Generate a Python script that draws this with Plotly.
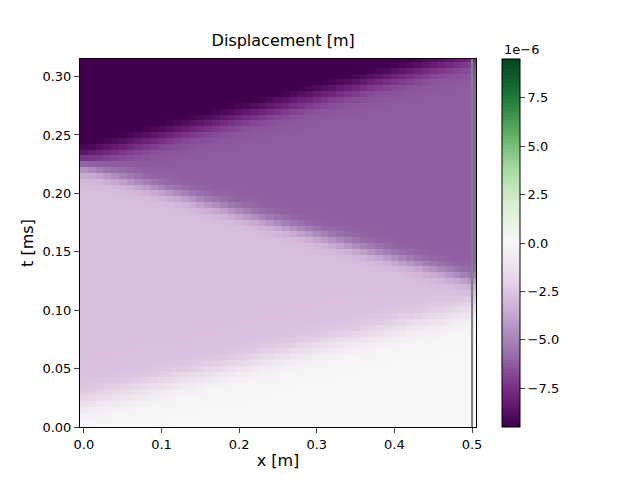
import numpy as np
import plotly.graph_objects as go
import plotly.express as px

x_cells = np.round(np.arange(0, 0.501, 0.01), 3)          # m
t_cells = np.round(np.arange(0, 0.316, 0.005), 4)         # ms
levels = [0.0, -2.7, -6.2, -10.0]                          # 1e-6 m, plateau values
front1 = (0.02, 0.10)    # incident front t at x=0, x=0.5
front2 = (0.222, 0.125)  # reflected front t at x=0, x=0.5
front3 = (0.232, 0.318)  # second front t at x=0, x=0.5
blur = [0.012, 0.008, 0.012]

X, T = np.meshgrid(x_cells, t_cells)
def line(f):
    return f[0] + (f[1] - f[0]) * X / 0.5
def s(d, w):
    return 0.5 * (1 + np.tanh(d / w))
Z = (levels[0]
     + (levels[1] - levels[0]) * s(T - line(front1), blur[0])
     + (levels[2] - levels[1]) * s(T - line(front2), blur[1])
     + (levels[3] - levels[2]) * s(T - line(front3), blur[2]))

fig = go.Figure(go.Heatmap(
    x=x_cells, y=t_cells, z=Z, colorscale=px.colors.diverging.PRGn,
    zmin=-9.5, zmax=9.5,
    colorbar=dict(x=0.754, xanchor="left", len=1.0, lenmode="fraction", y=0, yanchor="bottom",
                  thickness=18, xpad=0, ypad=0,
                  tickvals=[-7.5, -5, -2.5, 0, 2.5, 5, 7.5],
                  ticktext=["−7.5", "−5.0", "−2.5", "0.0", "2.5", "5.0", "7.5"],
                  ticks="outside", outlinewidth=1, outlinecolor="black",
                  tickfont=dict(size=13))))
fig.add_shape(type="line", x0=0.5, x1=0.5, y0=0, y1=0.315, line=dict(color="gray", width=2))
fig.update_layout(
    width=640, height=480, plot_bgcolor="white", paper_bgcolor="white",
    font=dict(family="DejaVu Sans", size=13, color="black"),
    margin=dict(l=72, r=8, t=51, b=61, autoexpand=False),
    title=dict(text="Displacement [m]", x=0.43, xanchor="center", y=0.92, yanchor="bottom",
               font=dict(size=16)),
    xaxis=dict(title=dict(text="x [m]", standoff=4), range=[-0.005, 0.505], domain=[0, 0.707],
               automargin=False,
               tickvals=[0, 0.1, 0.2, 0.3, 0.4, 0.5], tickformat=".1f",
               ticks="outside", showline=True, linecolor="black", mirror=True, showgrid=False, zeroline=False),
    yaxis=dict(title=dict(text="t [ms]", standoff=4), range=[0, 0.315], automargin=False,
               tickvals=[0, 0.05, 0.1, 0.15, 0.2, 0.25, 0.3], tickformat=".2f",
               ticks="outside", showline=True, linecolor="black", mirror=True, showgrid=False, zeroline=False),
    annotations=[dict(text="1e−6", xref="paper", yref="paper", x=0.754, y=1.0, xanchor="left",
                      yanchor="bottom", showarrow=False, font=dict(size=13))])
fig.write_html("out.html")
